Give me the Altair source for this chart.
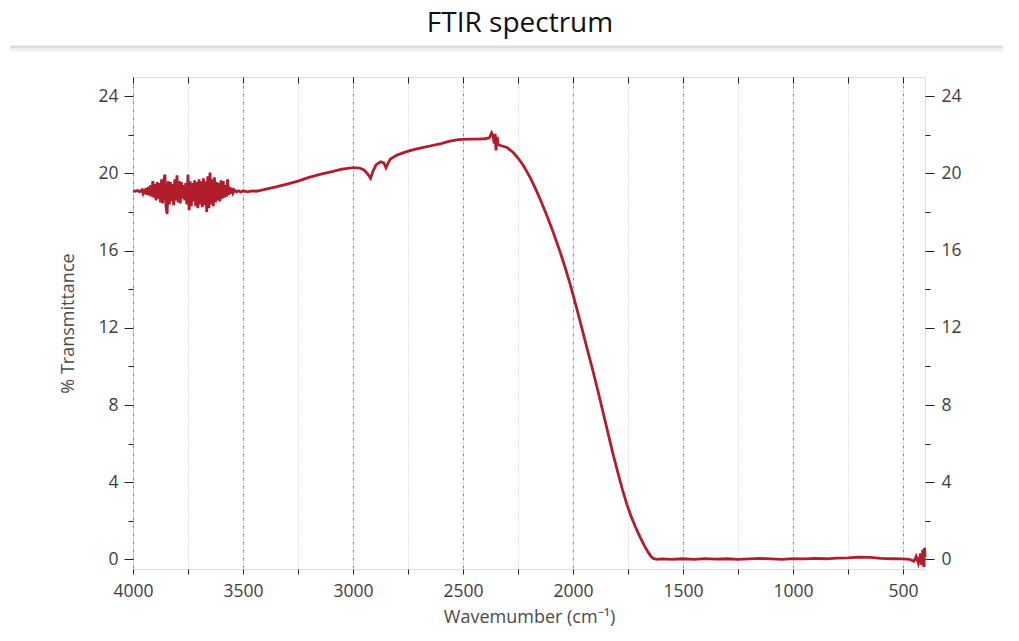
import altair as alt
import pandas as pd

# ---- data ----
wavenumber = [
    4000, 3990, 3980, 3970, 3960, 3955, 3950, 3945, 3940, 3935, 3930, 3925, 3920, 3915,
    3910, 3905, 3900, 3895, 3890, 3885, 3880, 3875, 3870, 3865, 3860, 3855, 3850, 3845,
    3840, 3835, 3830, 3825, 3820, 3815, 3810, 3805, 3800, 3795, 3790, 3785, 3780, 3775,
    3770, 3765, 3760, 3755, 3750, 3745, 3740, 3735, 3730, 3725, 3720, 3715, 3710, 3705,
    3700, 3695, 3690, 3685, 3680, 3675, 3670, 3665, 3660, 3655, 3650, 3645, 3640, 3635,
    3630, 3625, 3620, 3615, 3610, 3605, 3600, 3595, 3590, 3585, 3580, 3575, 3570, 3565,
    3560, 3555, 3550, 3545, 3540, 3530, 3520, 3510, 3500, 3480, 3460, 3440, 3420, 3400,
    3350, 3300, 3250, 3200, 3150, 3100, 3050, 3000, 2970, 2950, 2935, 2920, 2910, 2895,
    2875, 2860, 2850, 2840, 2830, 2800, 2760, 2720, 2680, 2640, 2600, 2560, 2520, 2480,
    2440, 2400, 2380, 2370, 2364, 2358, 2354, 2350, 2345, 2340, 2330, 2300, 2273, 2250,
    2225, 2195, 2170, 2145, 2118, 2090, 2059, 2035, 2014, 1991, 1968, 1940, 1909, 1886,
    1864, 1840, 1818, 1795, 1775, 1755, 1735, 1715, 1695, 1675, 1660, 1645, 1635,
    1620, 1600, 1550, 1500, 1450, 1400, 1350, 1300, 1250, 1200, 1150, 1100, 1050, 1000,
    950, 900, 850, 800, 750, 700, 650, 600, 550, 500, 470, 450, 440, 430, 420, 415, 410,
    405, 402, 400,
]
transmittance = [
    19.10, 19.08, 19.12, 19.05, 19.15, 18.98, 19.20, 18.92, 19.25, 18.90, 19.30, 18.85, 19.40, 18.80,
    19.60, 18.75, 19.45, 18.60, 19.55, 18.70, 19.50, 18.50, 19.70, 18.45, 19.60, 19.95, 18.30, 17.90,
    19.60, 18.40, 19.55, 18.55, 19.45, 18.35, 19.70, 18.60, 19.90, 18.50, 19.60, 18.45, 19.55, 18.70,
    19.40, 18.60, 19.50, 18.40, 19.95, 18.10, 19.60, 18.30, 19.50, 18.55, 19.65, 18.30, 19.55, 18.20,
    19.70, 18.40, 19.60, 18.25, 19.75, 18.35, 19.60, 18.00, 19.85, 18.20, 20.05, 18.40, 19.70, 18.30,
    19.80, 18.50, 19.55, 18.60, 19.50, 18.55, 19.65, 18.70, 19.60, 18.75, 19.40, 18.80, 19.70, 18.90,
    19.30, 18.95, 19.25, 19.00, 19.15, 19.05, 19.10, 19.03, 19.10, 19.05, 19.10, 19.08, 19.12, 19.18,
    19.30, 19.45, 19.60, 19.80, 19.95, 20.08, 20.22, 20.30, 20.28, 20.18, 20.00, 19.75, 20.10, 20.45,
    20.60, 20.55, 20.30, 20.55, 20.75, 20.95, 21.12, 21.25, 21.35, 21.45, 21.55, 21.68, 21.75, 21.78,
    21.78, 21.80, 21.85, 22.10, 21.95, 21.55, 22.05, 21.20, 21.90, 21.50, 21.45, 21.35, 21.10, 20.80,
    20.40, 19.80, 19.20, 18.55, 17.80, 16.95, 15.95, 15.10, 14.30, 13.35, 12.35, 11.10, 9.75, 8.70,
    7.65, 6.50, 5.45, 4.45, 3.60, 2.85, 2.20, 1.65, 1.15, 0.70, 0.40, 0.15, 0.05,
    0.00, 0.02, 0.00, 0.03, 0.00, 0.04, 0.01, 0.03, 0.00, 0.02, 0.05, 0.02, 0.00, 0.04,
    0.02, 0.05, 0.03, 0.06, 0.08, 0.12, 0.10, 0.05, 0.03, 0.02, 0.00, -0.10, 0.15, -0.20, 0.30, -0.30, 0.50,
    -0.40, 0.60, 0.10,
]

x_ticks = [500, 750, 1000, 1250, 1500, 1750, 2000, 2250, 2500, 2750, 3000, 3250, 3500, 3750, 4000]
y_major = [0, 4, 8, 12, 16, 20, 24]
y_minor = [2, 6, 10, 14, 18, 22]

df = pd.DataFrame({"wn": wavenumber, "t": transmittance})

FONT = "Open Sans"
LINE_COLOR = "#b01e2d"
LABEL_SIZE = 17.5

x_scale = alt.Scale(domain=[400, 4000], reverse=True, nice=False, zero=False)
y_scale = alt.Scale(domain=[-0.5, 25], nice=False, zero=False)

base = alt.Chart(df)

main = base.mark_line(color=LINE_COLOR, strokeWidth=2.8).encode(
    x=alt.X("wn:Q", scale=x_scale, title="Wavemumber (cm⁻¹)",
            axis=alt.Axis(values=x_ticks, format="d", labelFlush=False,
                          labelExpr="datum.value % 500 === 0 ? datum.label : ''",
                          tickSize=5, tickColor="#222", domain=False,
                          labelFont=FONT, labelFontSize=LABEL_SIZE, labelColor="#3d3d3d", labelPadding=8,
                          titleFont=FONT, titleFontSize=18, titleFontWeight="normal",
                          titleColor="#4a4a4a", titlePadding=9,
                          grid=True,
                          gridColor={"condition": {"test": "datum.value % 500 === 0", "value": "#8a8a8a"}, "value": "#c8c8c8"},
                          gridDash={"condition": {"test": "datum.value % 500 === 0", "value": [3, 2, 1, 2]}, "value": [1, 2]},
                          gridWidth=1)),
    y=alt.Y("t:Q", scale=y_scale, title="% Transmittance",
            axis=alt.Axis(values=y_major, tickSize=9, tickColor="#222", domain=False, grid=False,
                          labelFlush=False,
                          labelFont=FONT, labelFontSize=LABEL_SIZE, labelColor="#3d3d3d", labelPadding=6,
                          titleFont=FONT, titleFontSize=18, titleFontWeight="normal",
                          titleColor="#4a4a4a", titlePadding=20)),
)

ghost2 = base.mark_line(opacity=0).encode(
    x=alt.X("wn:Q", scale=x_scale, title=None,
            axis=alt.Axis(orient="top", values=x_ticks, labels=False, domain=False, grid=False,
                          tickSize=6, offset=-6, tickColor="#222")),
    y=alt.Y("t:Q", scale=y_scale, title=None,
            axis=alt.Axis(orient="right", values=y_major, tickSize=9, tickColor="#222",
                          domain=False, grid=False, labelFlush=False,
                          labelFont=FONT, labelFontSize=LABEL_SIZE, labelColor="#3d3d3d", labelPadding=7)),
)

ghost3 = base.mark_line(opacity=0).encode(
    x=alt.X("wn:Q", scale=x_scale, axis=None),
    y=alt.Y("t:Q", scale=y_scale, title=None,
            axis=alt.Axis(orient="left", values=y_minor, tickSize=5, tickColor="#222",
                          labels=False, domain=False, grid=False)),
)

ghost4 = base.mark_line(opacity=0).encode(
    x=alt.X("wn:Q", scale=x_scale, axis=None),
    y=alt.Y("t:Q", scale=y_scale, title=None,
            axis=alt.Axis(orient="right", values=y_minor, tickSize=5, tickColor="#222",
                          labels=False, domain=False, grid=False)),
)

sep = alt.Chart(alt.Data(values=[{}])).mark_rule(color="#dcdcdc", strokeWidth=3).encode(
    x=alt.value(-123), x2=alt.value(880), y=alt.value(-30))
sep2 = alt.Chart(alt.Data(values=[{}])).mark_rule(color="#efefef", strokeWidth=3).encode(
    x=alt.value(-123), x2=alt.value(880), y=alt.value(-27))

chart = alt.layer(sep, sep2, main, ghost2, ghost3, ghost4).resolve_axis(
    x="independent", y="independent"
).properties(
    width=792, height=492,
    title=alt.TitleParams("FTIR spectrum", font=FONT, fontSize=28, fontWeight="normal",
                          color="#111", offset=8, anchor="middle", dx=-9),
    autosize=alt.AutoSizeParams(type="none"),
    padding={"left": 125, "top": 69, "right": 78, "bottom": 62},
).configure_view(stroke="#222", strokeWidth=1.5).configure(background="white")

chart.save("out.html", embed_options={"renderer": "svg", "actions": False})
